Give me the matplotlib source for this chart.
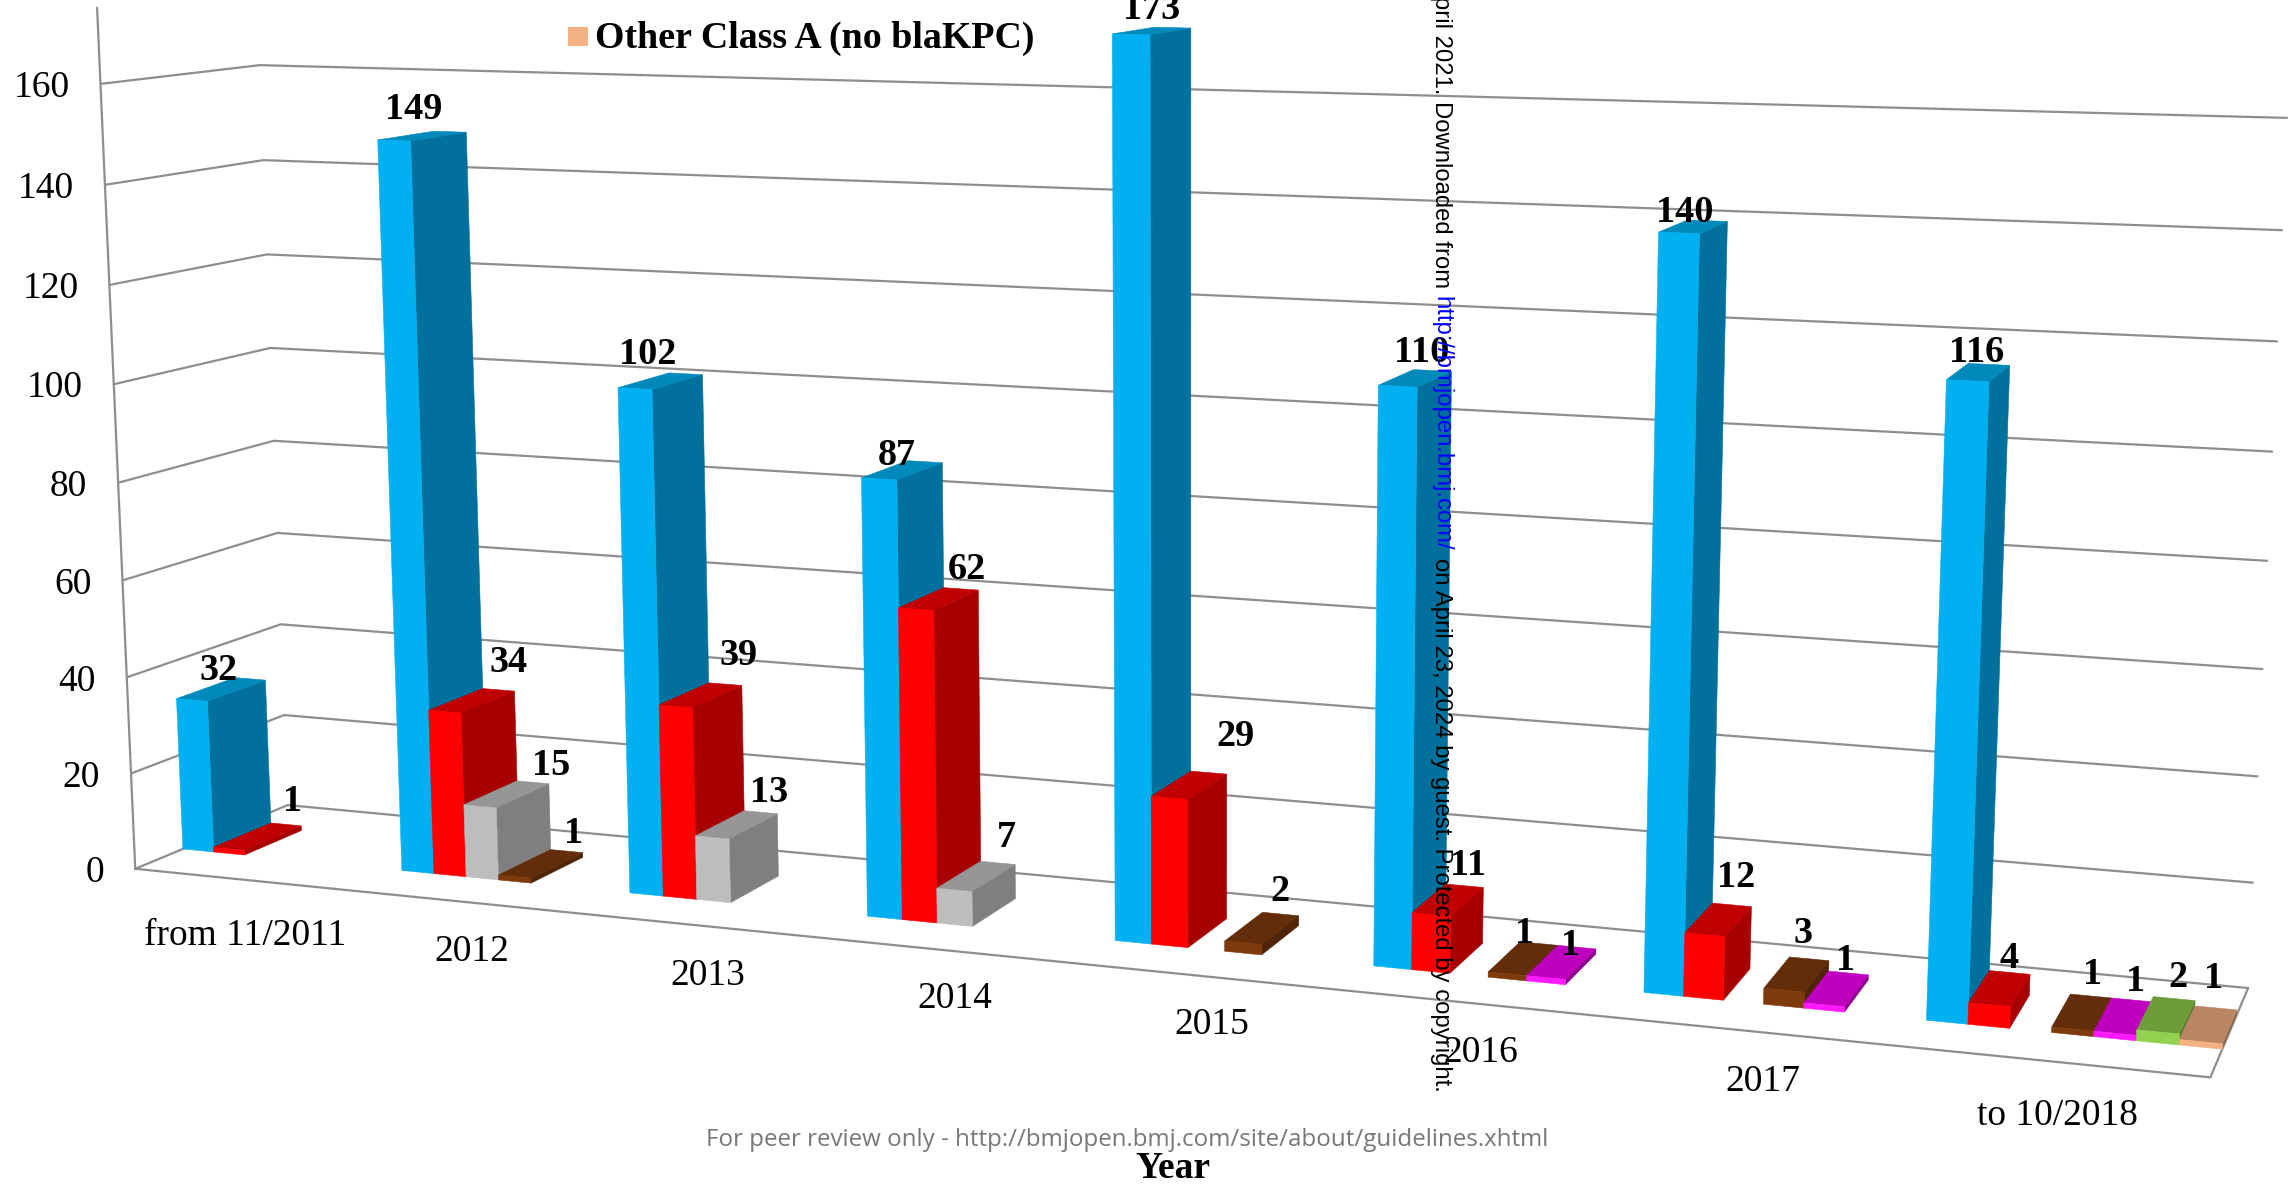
import numpy as np
import matplotlib
matplotlib.use("Agg")
import matplotlib.pyplot as plt

categories = ["from 11/2011", "2012", "2013", "2014", "2015", "2016", "2017", "to 10/2018"]
blue = [32, 149, 102, 87, 173, 110, 140, 116]
red = [1, 34, 39, 62, 29, 11, 12, 4]
gray = [0, 15, 13, 7, 0, 0, 0, 0]
brown = [0, 1, 0, 0, 2, 1, 3, 1]
magenta = [0, 0, 0, 0, 0, 1, 1, 1]
green = [0, 0, 0, 0, 0, 0, 0, 2]
peach = [0, 0, 0, 0, 0, 0, 0, 1]
y_ticks = [0, 20, 40, 60, 80, 100, 120, 140, 160]

series = [blue, red, gray, brown, magenta, green, peach]
# front, side, top
colours = [
    ("#00b0f0", "#01709c", "#0089bb"),
    ("#ff0000", "#a60000", "#c00000"),
    ("#bdbdbd", "#7f7f7f", "#969696"),
    ("#7f3a0c", "#4f2407", "#632d09"),
    ("#ff19ff", "#8a008a", "#c000bf"),
    ("#92d050", "#4f7a2b", "#6f9c3b"),
    ("#f4b183", "#8f6a50", "#b98563"),
]

# box corners (along, depth, value) -> where they land in the image
anchors = [
    (0, 0, 0, 136, 870), (0, 0, 160, 100, 83),
    (0, 1, 0, 287, 804), (0, 1, 160, 260, 66),
    (1, 1, 0, 2248, 990), (1, 1, 160, 2287, 118),
    (1, 0, 0, 2210, 1077),
    (1, 1, 40, 2258, 774), (1, 1, 120, 2277, 342),
]

# value labels were placed by hand in the original, so each has its own nudge
label_nudge = {
    (0, 0): (-4, -18), (0, 1): (33, -34), (1, 0): (-10, -26), (1, 1): (35, -38), (1, 2): (43, -28),
    (1, 3): (31, -30), (2, 0): (-14, -26), (2, 1): (36, -39), (2, 2): (31, -31), (3, 0): (-7, -14),
    (3, 1): (27, -29), (3, 2): (29, -38), (4, 0): (-2, -21), (4, 1): (45, -48), (4, 3): (17, -36),
    (5, 0): (5, -25), (5, 1): (19, -34), (5, 3): (0, -24), (5, 4): (8, -16), (6, 0): (-9, -14),
    (6, 1): (17, -41), (6, 3): (6, -40), (6, 4): (8, -27), (7, 0): (-2, -20), (7, 1): (9, -29),
    (7, 3): (10, -37), (7, 4): (11, -34), (7, 5): (11, -37), (7, 6): (5, -45),
}
cat_drop = [56, 49, 49, 48, 48, 49, 49, 54]

rows = []
rhs = []
for u, v, h, px, py in anchors:
    h = h / 160
    rows.append([u, v, h, 1, 0, 0, 0, 0, -px * u, -px * v, -px * h])
    rows.append([0, 0, 0, 0, u, v, h, 1, -py * u, -py * v, -py * h])
    rhs += [px, py]
m = np.linalg.lstsq(np.array(rows, float), np.array(rhs, float), rcond=None)[0]
cam = np.append(m, 1).reshape(3, 4)


def proj(u, v, h):
    p = cam @ np.array([u, v, h / 160, 1])
    return p[0] / p[2], p[1] / p[2]


fig = plt.figure(figsize=(22.93, 11.89), dpi=100)
ax = fig.add_axes([0, 0, 1, 1])
ax.set_xlim(0, 2293)
ax.set_ylim(1189, 0)
ax.axis("off")
serif = "Liberation Serif"
line_col = "#8e8e8e"


def edge(*pts):
    xy = [proj(*p) for p in pts]
    ax.plot([a[0] for a in xy], [a[1] for a in xy], color=line_col, lw=1.6,
            solid_capstyle="round", zorder=1)


for t in y_ticks:
    edge((0, 0, t), (0, 1, t), (1, 1, t))
    x, y = proj(0, 0, t)
    ax.text(x - 31, y, str(t), family=serif, fontsize=27, ha="right", va="center_baseline")
edge((0, 0, 0), (0, 0, 175))
edge((0, 0, 0), (1, 0, 0), (1, 1, 0))

n_cat = len(categories)
n_ser = len(series)
v0, v1 = 0.30, 0.68
z = 2


def face(pts, col):
    global z
    xy = [proj(*p) for p in pts]
    ax.fill([a[0] for a in xy], [a[1] for a in xy], color=col, lw=0.4, zorder=z)
    z += 0.01


label_xy = {}
for c in range(n_cat):
    for s in range(n_ser):
        val = series[s][c]
        if val == 0:
            continue
        u0 = (c + s / n_ser) / n_cat
        u1 = (c + (s + 1) / n_ser) / n_cat
        front, side, top = colours[s]
        face([(u1, v0, 0), (u1, v1, 0), (u1, v1, val), (u1, v0, val)], side)
        face([(u0, v0, val), (u1, v0, val), (u1, v1, val), (u0, v1, val)], top)
        face([(u0, v0, 0), (u1, v0, 0), (u1, v0, val), (u0, v0, val)], front)
        label_xy[(c, s)] = proj((u0 + u1) / 2, 0.5, val)

for (c, s), (x, y) in label_xy.items():
    dx, dy = label_nudge[(c, s)]
    ax.text(x + dx, y + dy, str(series[s][c]), family=serif, fontsize=27.5, weight="bold",
            ha="center", va="center", zorder=50)

for c, name in enumerate(categories):
    x, y = proj((c + 0.5) / n_cat, 0, 0)
    ax.text(x, y + cat_drop[c], name, family=serif, fontsize=27, ha="center", va="center", zorder=50)

ax.fill([568, 588, 588, 568], [27, 27, 46, 46], color="#f4b183", lw=0)
ax.text(595, 38, "Other Class A (no blaKPC)", family=serif, fontsize=27.3, weight="bold", va="center")
ax.text(1173, 1168, "Year", family=serif, fontsize=27, weight="bold", ha="center", va="center")
ax.text(1127, 1140, "For peer review only - http://bmjopen.bmj.com/site/about/guidelines.xhtml",
        family="Open Sans", fontsize=17.4, color="#777777", ha="center", va="center", zorder=60)

# watermark runs down the page, pieces stacked one after the other
fig.canvas.draw()
rend = fig.canvas.get_renderer()
y_pos = 1092
pieces = [("on April 23, 2024 by guest. Protected by copyright.", "black", 8),
          ("http://bmjopen.bmj.com/", "#0000ff", 8),
          ("April 2021. Downloaded from", "black", 0)]
for txt, col, gap in pieces:
    t = ax.text(1441, y_pos, txt, family="Liberation Sans", fontsize=17.2, color=col, rotation=270,
                ha="center", va="bottom", zorder=70)
    y_pos -= t.get_window_extent(rend).height + gap

fig.savefig("out.png", dpi=100)
